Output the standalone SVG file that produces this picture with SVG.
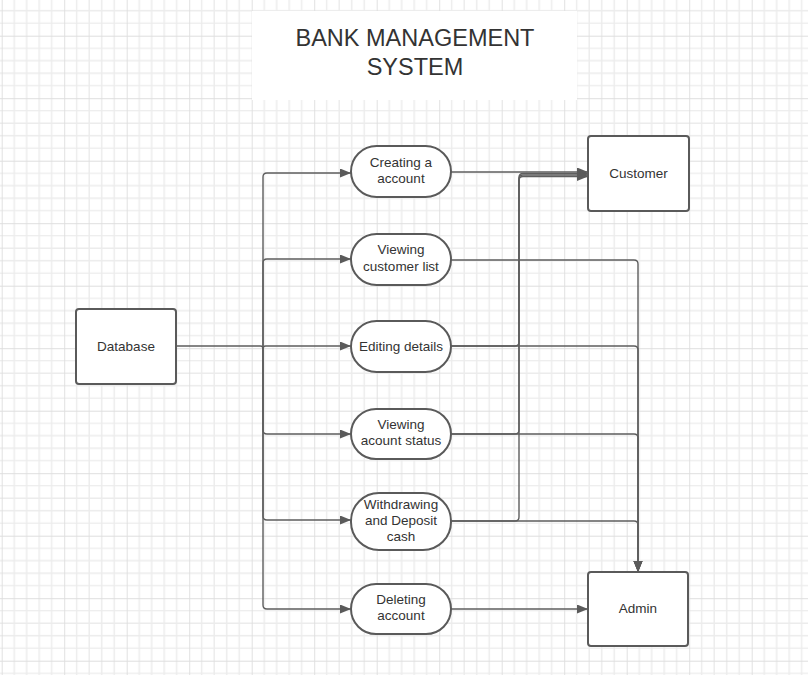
<svg xmlns="http://www.w3.org/2000/svg" width="808" height="675" viewBox="0 0 808 675">
<style>
.node{fill:#ffffff;stroke:#5a5a5a;stroke-width:2}
.lbl{font-family:"Liberation Sans",Arial,sans-serif;font-size:13.5px;fill:#333333;text-anchor:middle}
.title{font-family:"Liberation Sans",Arial,sans-serif;font-size:23.5px;fill:#333333;text-anchor:middle}
.con{fill:none;stroke:#5e5e5e;stroke-width:1.4}
</style>
<defs>
<pattern id="grid" patternUnits="userSpaceOnUse" x="1.7" y="35.7" width="62.5" height="62.5">
<path d="M12.5 0V62.5M25 0V62.5M37.5 0V62.5M50 0V62.5M0 12.5H62.5M0 25H62.5M0 37.5H62.5M0 50H62.5" stroke="#ececec" stroke-width="1.4" fill="none"/>
<path d="M0 0V62.5M0 0H62.5" stroke="#dedede" stroke-width="1.8" fill="none"/>
</pattern>
<marker id="arr" markerUnits="userSpaceOnUse" markerWidth="12" markerHeight="10" refX="11" refY="4.5" orient="auto">
<path d="M0 0L11 4.5L0 9z" fill="#5a5a5a"/>
</marker>
</defs>
<rect width="808" height="675" fill="#ffffff"/>
<rect width="808" height="675" fill="url(#grid)"/>
<g id="title">
<rect x="252" y="11" width="325" height="89" fill="#ffffff"/>
<text class="title" x="415" y="46">BANK MANAGEMENT</text>
<text class="title" x="415" y="74.5">SYSTEM</text>
</g>
<g id="connectors">
<path class="con" d="M176 346H260.5q2.5 0 2.5 2.5q0-2.5 2.5-2.5H351" marker-end="url(#arr)"/>
<path class="con" d="M263 346V177q0-4 4-4H351" marker-end="url(#arr)"/>
<path class="con" d="M263 346V263q0-4 4-4H351" marker-end="url(#arr)"/>
<path class="con" d="M263 346V430q0 4 4 4H351" marker-end="url(#arr)"/>
<path class="con" d="M263 346V516q0 4 4 4H351" marker-end="url(#arr)"/>
<path class="con" d="M263 346V605q0 4 4 4H351" marker-end="url(#arr)"/>
<path class="con" d="M451 172H588" marker-end="url(#arr)"/>
<path class="con" d="M451 346H515q4 0 4-4V177.5q0-4 4-4H588" marker-end="url(#arr)"/>
<path class="con" d="M451 434H515q4 0 4-4V179q0-4 4-4H588" marker-end="url(#arr)"/>
<path class="con" d="M451 521H515q4 0 4-4V180.5q0-4 4-4H588" marker-end="url(#arr)"/>
<path class="con" d="M451 260H634q4 0 4 4V572" marker-end="url(#arr)"/>
<path class="con" d="M451 346H634q4 0 4 4V572" marker-end="url(#arr)"/>
<path class="con" d="M451 434H634q4 0 4 4V572" marker-end="url(#arr)"/>
<path class="con" d="M451 521H634q4 0 4 4V572" marker-end="url(#arr)"/>
<path class="con" d="M451 609H588" marker-end="url(#arr)"/>
</g>
<g id="database">
<rect class="node" x="76" y="309" width="100" height="75" rx="3"/>
<text class="lbl" x="126" y="351">Database</text>
</g>
<g id="customer">
<rect class="node" x="588" y="136" width="101" height="75" rx="3"/>
<text class="lbl" x="638.5" y="178">Customer</text>
</g>
<g id="admin">
<rect class="node" x="588" y="572" width="100" height="74" rx="3"/>
<text class="lbl" x="638" y="612.5">Admin</text>
</g>
<g id="creating">
<rect class="node" x="351" y="146" width="100" height="51" rx="25.5"/>
<text class="lbl" x="401" y="166.5">Creating a</text>
<text class="lbl" x="401" y="183">account</text>
</g>
<g id="viewlist">
<rect class="node" x="351" y="234" width="100" height="51" rx="25.5"/>
<text class="lbl" x="401" y="254">Viewing</text>
<text class="lbl" x="401" y="270.5">customer list</text>
</g>
<g id="editing">
<rect class="node" x="351" y="321" width="100" height="51" rx="25.5"/>
<text class="lbl" x="401" y="351">Editing details</text>
</g>
<g id="status">
<rect class="node" x="351" y="409" width="100" height="50" rx="25"/>
<text class="lbl" x="401" y="428.5">Viewing</text>
<text class="lbl" x="401" y="445">acount status</text>
</g>
<g id="withdraw">
<rect class="node" x="351" y="493" width="100" height="57" rx="28"/>
<text class="lbl" x="401" y="508.5">Withdrawing</text>
<text class="lbl" x="401" y="525">and Deposit</text>
<text class="lbl" x="401" y="541">cash</text>
</g>
<g id="deleting">
<rect class="node" x="351" y="584" width="100" height="50" rx="25"/>
<text class="lbl" x="401" y="603.5">Deleting</text>
<text class="lbl" x="401" y="620">account</text>
</g>
</svg>
